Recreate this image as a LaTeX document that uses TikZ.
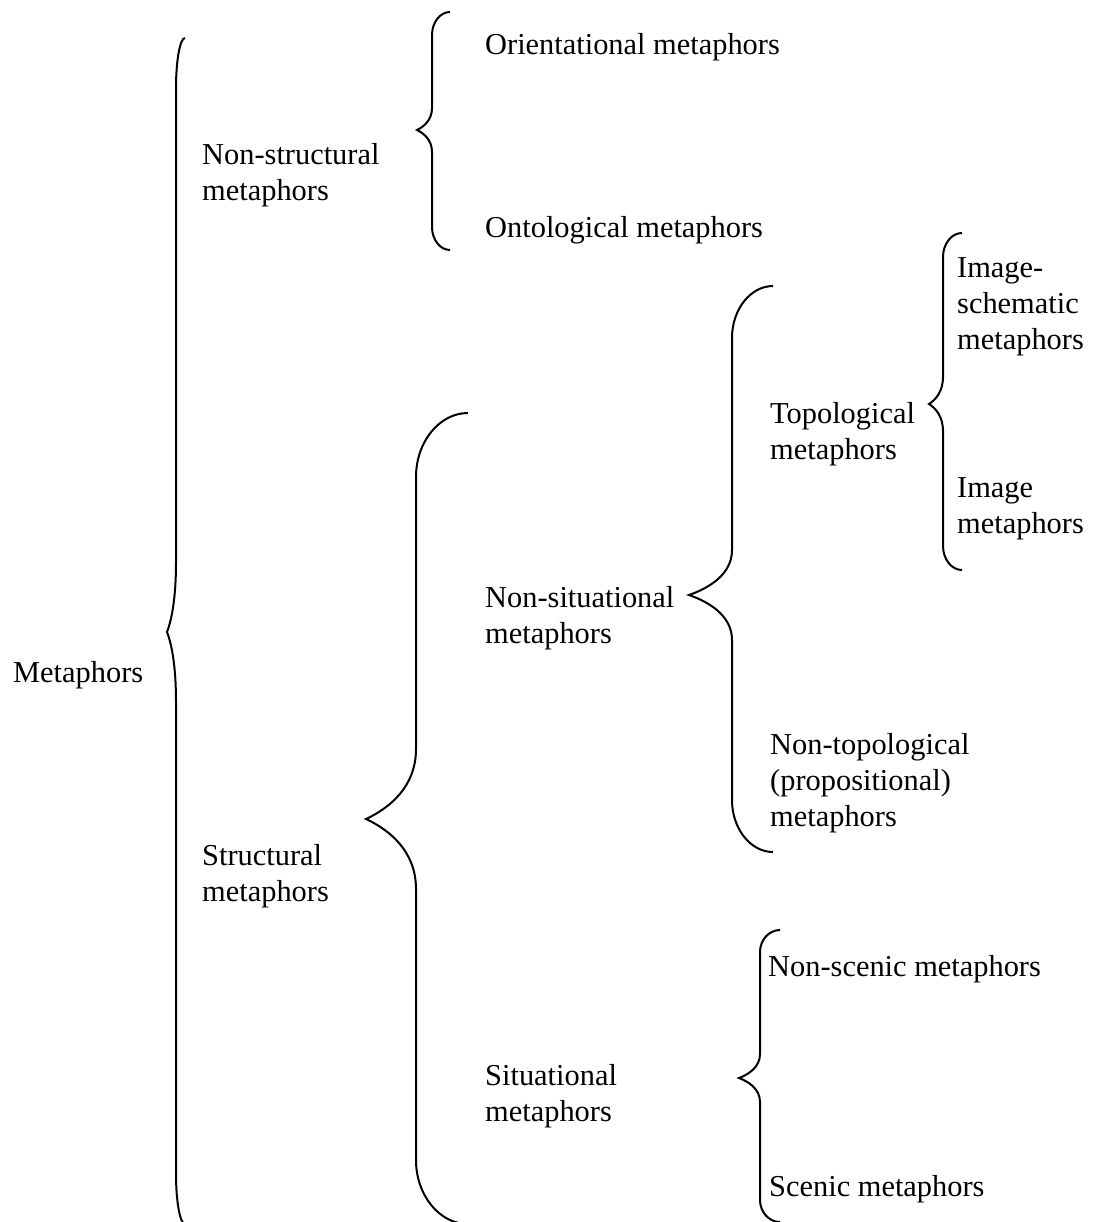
\documentclass[tikz,border=0pt]{standalone}
\usepackage{fontspec}
\setmainfont{Liberation Serif}
% Curly bracket: end x, spine x, tip x, top y, tip y, bottom y, curl height, tip half-height
\newcommand\drawbrace[8]{%
  \draw[bracket] (#1,#4)
    .. controls ({#2+0.45*(#1-#2)},#4) and (#2,{#4+0.45*#7}) .. (#2,{#4+#7})
    -- (#2,{#5-#8})
    .. controls (#2,{#5-0.45*#8}) and ({#3+0.45*(#2-#3)},{#5-0.15*#8}) .. (#3,#5)
    .. controls ({#3+0.45*(#2-#3)},{#5+0.15*#8}) and (#2,{#5+0.45*#8}) .. (#2,{#5+#8})
    -- (#2,{#6-#7})
    .. controls (#2,{#6-0.45*#7}) and ({#2+0.45*(#1-#2)},#6) .. (#1,#6);}
\begin{document}
\begin{tikzpicture}[x=1pt,y=-1pt,
  bracket/.style={draw=black,line width=2pt},
  term/.style={anchor=base west,inner sep=0pt,align=left,
    font=\fontsize{30.4}{36}\selectfont}]
\useasboundingbox (0,0) rectangle (1094,1222);

% labels (y is the baseline of the last line)
\node[term] (met)  at (13,682)  {Metaphors};
\node[term] (nstr) at (202,201) {Non-structural\\metaphors};
\node[term] (str)  at (202,901) {Structural\\metaphors};
\node[term] (ori)  at (485,55)  {Orientational metaphors};
\node[term] (ont)  at (485,238) {Ontological metaphors};
\node[term] (nsit) at (485,643) {Non-situational\\metaphors};
\node[term] (sit)  at (485,1121) {Situational\\metaphors};
\node[term] (top)  at (770,459) {Topological\\metaphors};
\node[term] (ntop) at (770,826) {Non-topological\\(propositional)\\metaphors};
\node[term] (isch) at (957,349) {Image-\\schematic\\metaphors};
\node[term] (img)  at (957,533) {Image\\metaphors};
\node[term] (nsc)  at (768,976) {Non-scenic metaphors};
\node[term] (sc)   at (769,1196) {Scenic metaphors};

% brackets
\drawbrace{185}{176}{167}{38}{632}{1224}{50}{70}
\drawbrace{450}{432}{417}{12}{130}{250}{23}{22}
\drawbrace{468}{416}{366}{413}{819}{1224}{64}{70}
\drawbrace{773}{732}{689}{286}{595}{852}{52}{45}
\drawbrace{962}{943}{929}{233}{404}{570}{24}{27}
\drawbrace{780}{760}{739}{930}{1078}{1222}{22}{24}
\end{tikzpicture}
\end{document}
